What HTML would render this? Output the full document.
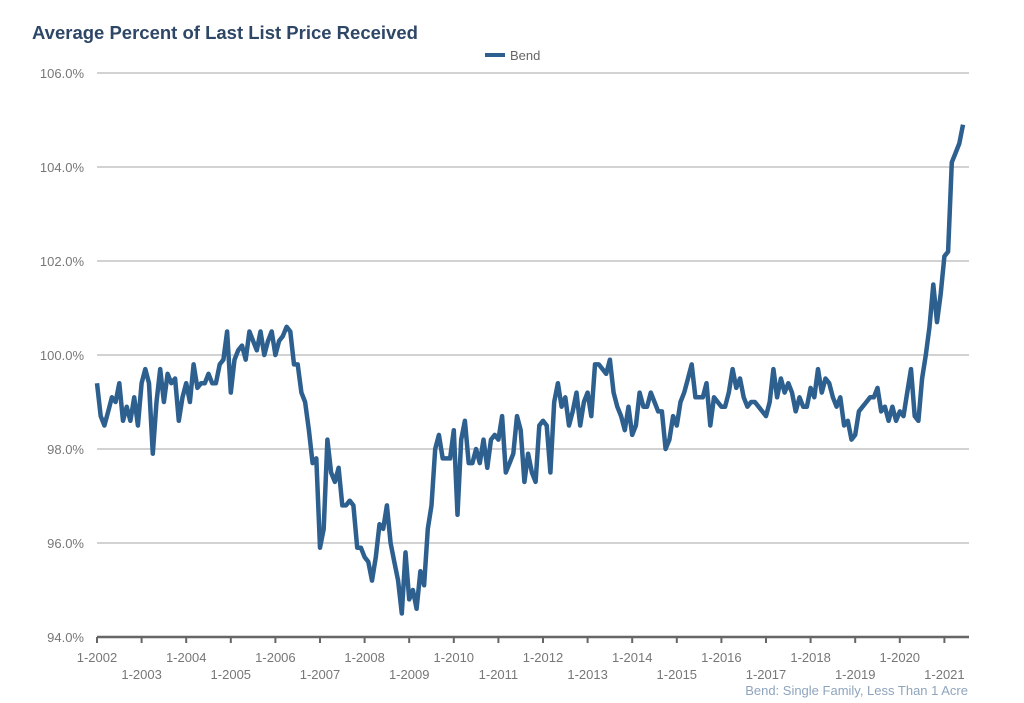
<!DOCTYPE html>
<html><head><meta charset="utf-8"><style>
body{margin:0;background:#fff;width:1024px;height:703px;overflow:hidden;font-family:"Liberation Sans",sans-serif;}
svg{display:block}
</style></head><body>
<svg id="chart" width="1024" height="703">
<text x="32" y="39" font-size="18.5" font-weight="bold" fill="#2e4766">Average Percent of Last List Price Received</text>
<g>
<rect x="485" y="53" width="20" height="4" fill="#2d5f8f"></rect>
<text x="510" y="60" font-size="13" fill="#666">Bend</text>
</g>
<g id="grid"></g><g id="yax"></g><g id="xax"></g>
<path id="line" fill="none" stroke="#2d5f8f" stroke-width="4.5" stroke-linejoin="round"></path>
<text x="968" y="695" font-size="13" fill="#8ea4bd" text-anchor="end">Bend: Single Family, Less Than 1 Acre</text>
</svg>
<script>
const yTicks=[94,96,98,100,102,104,106];
const xYears=[2002,2003,2004,2005,2006,2007,2008,2009,2010,2011,2012,2013,2014,2015,2016,2017,2018,2019,2020,2021];
const values=[
99.4,98.7,98.5,98.8,99.1,99.0,99.4,98.6,98.9,98.6,99.1,98.5,
99.4,99.7,99.4,97.9,99.0,99.7,99.0,99.6,99.4,99.5,98.6,99.1,
99.4,99.0,99.8,99.3,99.4,99.4,99.6,99.4,99.4,99.8,99.9,100.5,
99.2,99.9,100.1,100.2,99.9,100.5,100.3,100.1,100.5,100.0,100.3,100.5,
100.0,100.3,100.4,100.6,100.5,99.8,99.8,99.2,99.0,98.4,97.7,97.8,
95.9,96.3,98.2,97.5,97.3,97.6,96.8,96.8,96.9,96.8,95.9,95.9,
95.7,95.6,95.2,95.7,96.4,96.3,96.8,96.0,95.6,95.2,94.5,95.8,
94.8,95.0,94.6,95.4,95.1,96.3,96.8,98.0,98.3,97.8,97.8,97.8,
98.4,96.6,98.2,98.6,97.7,97.7,98.0,97.7,98.2,97.6,98.2,98.3,
98.2,98.7,97.5,97.7,97.9,98.7,98.4,97.3,97.9,97.5,97.3,98.5,
98.6,98.5,97.5,99.0,99.4,98.9,99.1,98.5,98.8,99.2,98.5,99.0,
99.2,98.7,99.8,99.8,99.7,99.6,99.9,99.2,98.9,98.7,98.4,98.9,
98.3,98.5,99.2,98.9,98.9,99.2,99.0,98.8,98.8,98.0,98.2,98.7,
98.5,99.0,99.2,99.5,99.8,99.1,99.1,99.1,99.4,98.5,99.1,99.0,
98.9,98.9,99.2,99.7,99.3,99.5,99.1,98.9,99.0,99.0,98.9,98.8,
98.7,99.0,99.7,99.1,99.5,99.2,99.4,99.2,98.8,99.1,98.9,98.9,
99.3,99.1,99.7,99.2,99.5,99.4,99.1,98.9,99.1,98.5,98.6,98.2,
98.3,98.8,98.9,99.0,99.1,99.1,99.3,98.8,98.9,98.6,98.9,98.6,
98.8,98.7,99.2,99.7,98.7,98.6,99.5,100.0,100.6,101.5,100.7,101.3,
102.1,102.2,104.1,104.3,104.5,104.9];
const L=97,R=969,T=73,B=637;
const monthPx=44.6/12;
const x=i=>L+i*monthPx;
const y=v=>B-(v-94)/12*(B-T);
const NS='http://www.w3.org/2000/svg';
function mk(tag,attrs,parent){const e=document.createElementNS(NS,tag);for(const k in attrs)e.setAttribute(k,attrs[k]);parent.appendChild(e);return e;}
const grid=document.getElementById('grid'),yax=document.getElementById('yax'),xax=document.getElementById('xax');
yTicks.forEach(t=>{
  if(t>94){const g=mk('line',{x1:L,x2:R,y1:y(t),y2:y(t),stroke:'#c4c4c4','stroke-width':1.5},grid);
  
  }
  const tx=mk('text',{x:84,y:y(t)+5,'font-size':13,fill:'#777','text-anchor':'end'},yax);
  tx.textContent=t.toFixed(1)+'%';
  
  
});
const ax=mk('line',{x1:L,x2:R,y1:B,y2:B,stroke:'#666','stroke-width':2.5},xax);


xYears.forEach((yr,k)=>{
  const px=x(k*12);
  const tk=mk('line',{x1:px,x2:px,y1:B,y2:B+6,stroke:'#666','stroke-width':2},xax);
  
  
  const tx=mk('text',{x:px,y:k%2?679:662,'font-size':13,fill:'#777','text-anchor':'middle'},xax);
  tx.textContent='1-'+yr;
  
  
});
document.getElementById('line').setAttribute('d',values.map((v,i)=>(i?'L':'M')+x(i).toFixed(1)+' '+y(v).toFixed(1)).join(' '));
</script>
</body></html>
